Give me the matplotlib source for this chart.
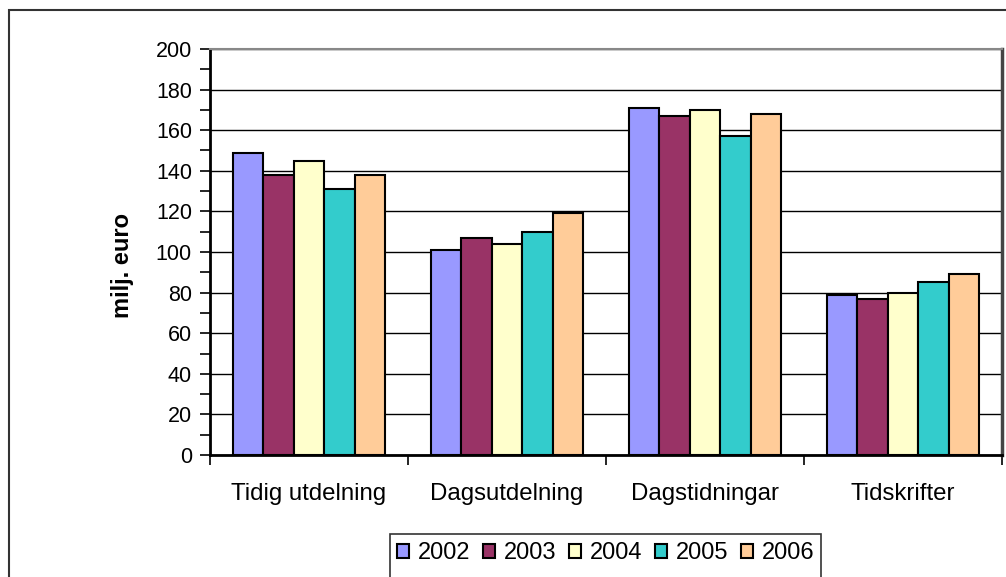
import matplotlib
matplotlib.use('Agg')
import matplotlib.pyplot as plt
from matplotlib.patches import Rectangle
from matplotlib.ticker import MultipleLocator
import numpy as np

plt.rcParams['font.family'] = ['Liberation Sans', 'DejaVu Sans']

kategorier = ['Tidig utdelning', 'Dagsutdelning', 'Dagstidningar', 'Tidskrifter']
ar = ['2002', '2003', '2004', '2005', '2006']
v2002 = [149, 101, 171, 79]
v2003 = [138, 107, 167, 77]
v2004 = [145, 104, 170, 80]
v2005 = [131, 110, 157, 85]
v2006 = [138, 119, 168, 89]
serier = [v2002, v2003, v2004, v2005, v2006]
farger = ['#9999FF', '#993366', '#FFFFCC', '#33CCCC', '#FFCC99']

W, H = 1006, 577
fig = plt.figure(figsize=(W / 100, H / 100), dpi=100)

# yttre ram runt diagrammet
fig.patches.append(Rectangle((9 / W, -0.1), 1.1, 1 - 10 / H + 0.1, transform=fig.transFigure,
                             fill=False, edgecolor='#333333', linewidth=1.5))
# ram runt legenden (nedre kanten hamnar utanfor bilden)
fig.patches.append(Rectangle((390 / W, -0.1), 431 / W, 1 - 534 / H + 0.1, transform=fig.transFigure,
                             fill=False, edgecolor='#333333', linewidth=1.2))

ax = fig.add_axes([210 / W, 1 - 455 / H, 792 / W, 406 / H])

n = len(ar)
bar_w = 1 / 6.5
index = np.arange(len(kategorier))
for i, (vals, farg, lab) in enumerate(zip(serier, farger, ar)):
    ax.bar(index + (i - (n - 1) / 2) * bar_w, vals, width=bar_w, color=farg,
           edgecolor='black', linewidth=1.5, label=lab, zorder=3)

ax.set_xlim(-0.5, len(kategorier) - 0.5)
ax.set_ylim(0, 200)
ax.yaxis.set_major_locator(MultipleLocator(20))
ax.yaxis.set_minor_locator(MultipleLocator(10))
ax.grid(axis='y', which='major', color='black', linewidth=1, zorder=0)

ax.set_xticks(np.arange(-0.5, len(kategorier), 1), minor=False)
ax.set_xticklabels([])
ax.set_xticks(index, minor=True)
ax.set_xticklabels(kategorier, minor=True, fontsize=17.3)
ax.tick_params(axis='x', which='minor', length=0, pad=20.5)
ax.tick_params(axis='x', which='major', length=7, width=1.2, direction='out')
ax.tick_params(axis='y', which='major', length=7, width=1.2, labelsize=15.5, pad=6)
ax.tick_params(axis='y', which='minor', length=7, width=1.2)

ax.spines['left'].set_linewidth(2)
ax.spines['bottom'].set_linewidth(2)
ax.spines['top'].set_color('#888888')
ax.spines['top'].set_linewidth(1.5)
ax.spines['right'].set_color('#444444')
ax.spines['right'].set_linewidth(2.5)

fig.text(122 / W, 1 - 265 / H, 'milj. euro', rotation=90, ha='center', va='center',
         fontsize=17, fontweight='bold')

leg = fig.legend(loc='center', bbox_to_anchor=(605.5 / W, 1 - 553 / H), ncol=5,
                 fontsize=17, frameon=False,
                 handlelength=0.52, handleheight=0.52, handletextpad=0.35, columnspacing=0.55,
                 borderpad=0, borderaxespad=0)

plt.savefig('out.png', dpi=100)
plt.close()
